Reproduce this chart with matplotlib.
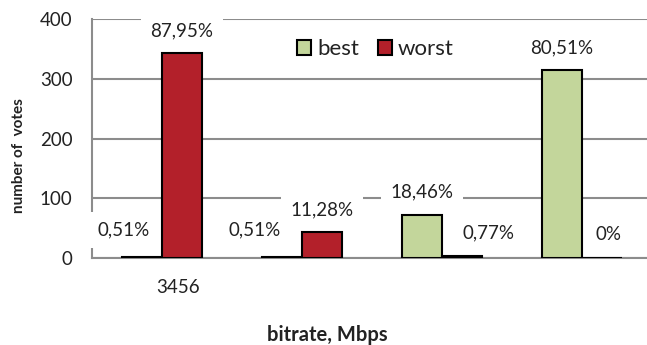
import numpy as np
import matplotlib
matplotlib.use("Agg")
import matplotlib.pyplot as plt

# --------------------------------------------------
# dados
# --------------------------------------------------
grupos = ["g1", "g2", "g3", "g4"]
votos_best = [2, 2, 72, 314]
votos_worst = [343, 44, 3, 0]
rotulos_best = ["0,51%", "0,51%", "18,46%", "80,51%"]
rotulos_worst = ["87,95%", "11,28%", "0,77%", "0%"]
yticks = [0, 100, 200, 300, 400]
xtick_label = "3456"

# deslocamento dos rótulos (pixels) em relação ao topo de cada barra
desloc_best = [(-18, 27), (-27, 27), (0, 23), (0, 23)]
desloc_worst = [(0, 22), (0, 22), (27, 23), (7, 23)]

cor_best = "#C3D69B"
cor_worst = "#B3202A"

plt.rcParams["font.family"] = ["Lato", "DejaVu Sans"]

W, H = 647, 345
fig = plt.figure(figsize=(W / 100, H / 100), dpi=100)
ax = fig.add_axes([92 / W, 87 / H, 560 / W, 239 / H])

x = np.arange(len(grupos))
larg = 0.2857

b1 = ax.bar(x - larg / 2, votos_best, larg, color=cor_best, edgecolor="black",
            linewidth=1.5, label="best", zorder=4)
b2 = ax.bar(x + larg / 2, votos_worst, larg, color=cor_worst, edgecolor="black",
            linewidth=1.5, label="worst", zorder=4)

caixa = dict(boxstyle="square,pad=0.5", facecolor="white", edgecolor="none")
for barras, rotulos, desl in [(b1, rotulos_best, desloc_best), (b2, rotulos_worst, desloc_worst)]:
    for barra, txt, (dx, dy) in zip(barras, rotulos, desl):
        ax.annotate(txt, (barra.get_x() + barra.get_width() / 2, barra.get_height()),
                    xytext=(dx, dy), textcoords="offset pixels",
                    ha="center", va="center", fontsize=13.5, color="#222222",
                    bbox=caixa, zorder=3)

ax.set_xlim(-0.5, 3.5)
ax.set_ylim(0, 400)
ax.set_yticks(yticks)
ax.yaxis.grid(True, color="#8c8c8c", linewidth=1.5, zorder=0)
ax.set_axisbelow(True)

ax.set_xticks([0.114])
ax.set_xticklabels([xtick_label])
ax.tick_params(axis="x", length=0, pad=15, labelsize=13.5, labelcolor="#222222")
ax.tick_params(axis="y", length=0, pad=14, labelsize=13.5, labelcolor="#222222")

for lado in ["top", "right"]:
    ax.spines[lado].set_visible(False)
for lado in ["left", "bottom"]:
    ax.spines[lado].set_color("#8c8c8c")
    ax.spines[lado].set_linewidth(1.5)

leg = ax.legend(loc="center left", bbox_to_anchor=(297 / W, 1 - 49 / H),
                bbox_transform=fig.transFigure, ncol=2, frameon=False,
                fontsize=16, handlelength=0.65, handleheight=0.65,
                handletextpad=0.25, columnspacing=0.85, borderaxespad=0,
                borderpad=0)
for t in leg.get_texts():
    t.set_color("#222222")

fig.text(19 / W, 1 - 156 / H, "number of  votes", rotation=90, ha="center",
         va="center", fontsize=11, fontweight="bold", color="#222222")
fig.text(327 / W, 1 - 335 / H, "bitrate, Mbps", ha="center", va="center",
         fontsize=14.5, fontweight="bold", color="#222222")

fig.savefig("out.png", dpi=100)
